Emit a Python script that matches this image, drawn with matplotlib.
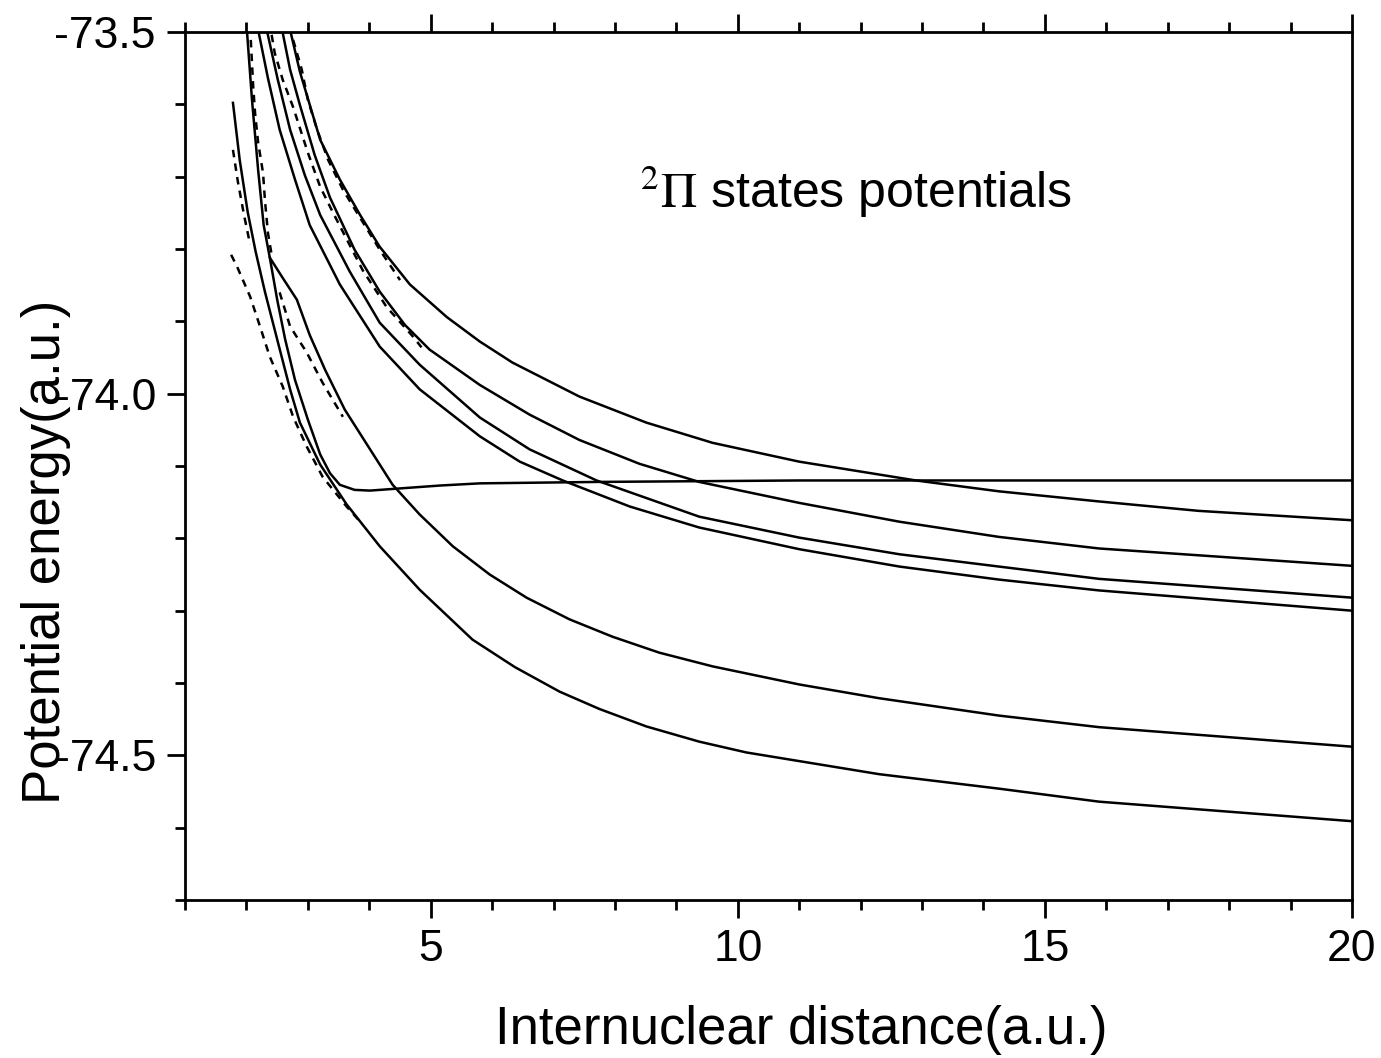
import matplotlib
matplotlib.use("Agg")
import matplotlib.pyplot as plt
from matplotlib.ticker import MultipleLocator, FixedLocator

plt.rcParams["font.family"] = ["Liberation Sans", "DejaVu Sans"]
plt.rcParams["mathtext.fontset"] = "stix"

# solid curves (internuclear distance in a.u., energy in a.u.)
r1 = [2.71, 2.87, 3.20, 3.52, 3.85, 4.17, 4.66, 5.26, 5.80, 6.33, 7.42, 8.51, 9.59, 11.0, 12.90, 14.25, 15.88,
      17.50, 20.0]
e1 = [-73.497, -73.555, -73.649, -73.704, -73.753, -73.797, -73.849, -73.894, -73.928, -73.957, -74.004, -74.040,
      -74.068, -74.094, -74.120, -74.135, -74.149, -74.162, -74.175]

r2 = [2.58, 2.71, 2.87, 3.11, 3.36, 3.76, 4.17, 4.58, 4.98, 5.80, 6.61, 7.42, 8.40, 9.37, 11.0, 12.63, 14.25,
      15.88, 20.0]
e2 = [-73.497, -73.552, -73.601, -73.670, -73.729, -73.801, -73.859, -73.905, -73.939, -73.988, -74.029, -74.064,
      -74.097, -74.122, -74.151, -74.177, -74.198, -74.214, -74.238]

r3 = [2.33, 2.51, 2.71, 2.95, 3.20, 3.68, 4.17, 4.82, 5.80, 6.61, 7.70, 9.37, 11.0, 12.63, 14.25, 15.88, 20.0]
e3 = [-73.497, -73.566, -73.635, -73.698, -73.753, -73.831, -73.902, -73.960, -74.033, -74.077, -74.120, -74.170,
      -74.199, -74.222, -74.239, -74.256, -74.282]

r4 = [2.19, 2.35, 2.54, 2.79, 3.03, 3.52, 4.17, 4.82, 5.80, 6.45, 7.15, 8.24, 9.37, 11.0, 12.63, 14.25, 15.88,
      20.0]
e4 = [-73.497, -73.564, -73.635, -73.704, -73.767, -73.849, -73.935, -73.994, -74.059, -74.094, -74.120, -74.156,
      -74.185, -74.215, -74.239, -74.257, -74.272, -74.300]

r5 = [2.01, 2.09, 2.19, 2.28, 2.38, 2.59, 2.82, 3.03, 3.28, 3.60, 3.96, 4.38, 4.82, 5.36, 5.96, 6.56, 7.26, 7.96,
      8.72, 9.59, 11.0, 12.30, 14.25, 15.88, 20.0]
e5 = [-73.501, -73.594, -73.691, -73.767, -73.812, -73.840, -73.870, -73.919, -73.967, -74.022, -74.070, -74.126,
      -74.167, -74.211, -74.250, -74.282, -74.312, -74.336, -74.358, -74.377, -74.402, -74.421, -74.445, -74.461,
      -74.488]

r6 = [1.78, 1.89, 2.02, 2.15, 2.30, 2.50, 2.71, 2.87, 3.20, 3.63, 4.17, 4.82, 5.68, 6.37, 7.10, 7.75, 8.51, 9.37,
      10.14, 12.30, 14.25, 15.88, 20.0]
e6 = [-73.598, -73.677, -73.749, -73.804, -73.859, -73.925, -73.994, -74.040, -74.098, -74.153, -74.211, -74.271,
      -74.340, -74.378, -74.412, -74.436, -74.460, -74.481, -74.496, -74.526, -74.546, -74.564, -74.591]

r7 = [2.38, 2.50, 2.63, 2.79, 3.00, 3.20, 3.36, 3.52, 3.76, 4.01, 4.50, 5.15, 5.80, 7.75, 11.0, 20.0]
e7 = [-73.812, -73.870, -73.925, -73.981, -74.036, -74.084, -74.110, -74.126, -74.133, -74.134, -74.131, -74.127,
      -74.124, -74.122, -74.120, -74.120]

# dashed curves
rd1 = [2.07, 2.11, 2.14, 2.19, 2.27, 2.30, 2.35, 2.41]
ed1 = [-73.511, -73.576, -73.612, -73.653, -73.695, -73.732, -73.778, -73.808]

rd2 = [2.41, 2.46, 2.59, 2.76, 3.00, 3.20, 3.41, 3.89, 4.28, 4.71, 4.85]
ed2 = [-73.504, -73.529, -73.566, -73.604, -73.667, -73.714, -73.750, -73.829, -73.880, -73.921, -73.936]

rd3 = [2.76, 2.90, 3.00, 3.15, 3.33, 3.57, 3.80, 4.17, 4.50]
ed3 = [-73.511, -73.552, -73.594, -73.635, -73.677, -73.718, -73.750, -73.801, -73.843]

rd4 = [1.78, 1.86, 1.96, 2.06]
ed4 = [-73.663, -73.707, -73.753, -73.794]

rd5 = [1.75, 1.85, 2.06, 2.22, 2.38, 2.59, 2.76, 2.98, 3.24, 3.63, 3.85]
ed5 = [-73.808, -73.825, -73.866, -73.907, -73.949, -73.990, -74.032, -74.073, -74.115, -74.156, -74.177]

rd6 = [2.54, 2.71, 2.98, 3.24, 3.57]
ed6 = [-73.860, -73.907, -73.943, -73.985, -74.032]

solid = [(r1, e1), (r2, e2), (r3, e3), (r4, e4), (r5, e5), (r6, e6), (r7, e7)]
dashed = [(rd1, ed1), (rd2, ed2), (rd3, ed3), (rd4, ed4), (rd5, ed5), (rd6, ed6)]

fig = plt.figure(figsize=(13.81, 10.58), dpi=100)
ax = fig.add_axes([0.134, 0.1493, 0.845, 0.8205])

for r, e in solid:
    ax.plot(r, e, color="black", lw=1.8)
for r, e in dashed:
    ax.plot(r, e, color="black", lw=1.8, linestyle=(0, (3, 2.5)))

ax.set_xlim(1, 20)
ax.set_ylim(-74.7, -73.5)
ax.xaxis.set_major_locator(FixedLocator([5, 10, 15, 20]))
ax.xaxis.set_minor_locator(MultipleLocator(1))
ax.yaxis.set_major_locator(FixedLocator([-73.5, -74.0, -74.5]))
ax.yaxis.set_minor_locator(MultipleLocator(0.1))
ax.yaxis.set_major_formatter(plt.FormatStrFormatter("%.1f"))

ax.tick_params(which="both", direction="out", width=2, top=True, right=False,
               labelsize=32, pad=8)
ax.tick_params(which="major", length=13)
ax.tick_params(which="minor", length=7)
for s in ax.spines.values():
    s.set_linewidth(2)

ax.set_xlabel("Internuclear distance(a.u.)", fontsize=38)
ax.xaxis.set_label_coords(0.528, -0.1205)
ax.set_ylabel("Potential energy(a.u.)", fontsize=38)
ax.yaxis.set_label_coords(-0.098, 0.401)

ax.text(8.40, -73.743, r"$^{2}\Pi$ states potentials", fontsize=36)

fig.savefig("out.png", dpi=100)
